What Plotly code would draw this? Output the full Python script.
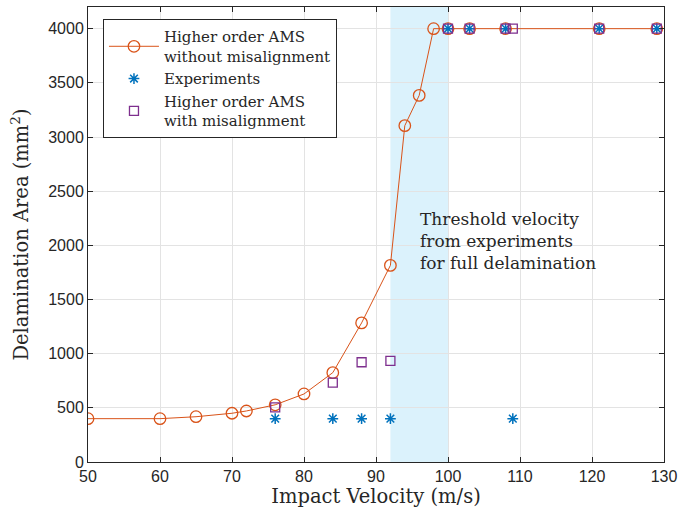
import plotly.graph_objects as go

# Data
v_ams = [50, 60, 65, 70, 72, 76, 80, 84, 88, 92, 94, 96, 98, 100, 103, 108, 121, 129]
a_ams = [400, 400, 418, 450, 471, 528, 628, 825, 1284, 1815, 3105, 3384, 4000, 4000, 4000, 4000, 4000, 4000]

v_exp = [76, 84, 88, 92, 100, 103, 108, 109, 121, 129]
a_exp = [400, 400, 400, 400, 4000, 4000, 4000, 400, 4000, 4000]

v_mis = [76, 84, 88, 92, 100, 103, 108, 109, 121, 129]
a_mis = [505, 733, 921, 933, 4000, 4000, 4000, 4000, 4000, 4000]

band = [92, 100]
x_ticks = [50, 60, 70, 80, 90, 100, 110, 120, 130]
y_ticks = [0, 500, 1000, 1500, 2000, 2500, 3000, 3500, 4000]

SERIF = "DejaVu Serif"
SANS = "Liberation Sans"
ORANGE = "#D95319"
BLUE = "#0072BD"
PURPLE = "#7E2F8E"

fig = go.Figure()
fig.add_vrect(x0=band[0], x1=band[1], fillcolor="rgba(77,190,238,0.2)", line_width=0, layer="below")

fig.add_trace(go.Scatter(
    x=v_ams, y=a_ams, mode="lines+markers",
    name="Higher order AMS<br>without misalignment",
    line=dict(color=ORANGE, width=1),
    marker=dict(symbol="circle-open", size=11.5, color=ORANGE, line=dict(width=1.3)),
))
fig.add_trace(go.Scatter(
    x=v_exp, y=a_exp, mode="markers", name="Experiments",
    marker=dict(symbol="asterisk-open", size=9, color=BLUE, line=dict(width=1.5, color=BLUE)),
))
fig.add_trace(go.Scatter(
    x=v_mis, y=a_mis, mode="markers",
    name="Higher order AMS<br>with misalignment",
    marker=dict(symbol="square-open", size=9, color=PURPLE, line=dict(width=1.3)),
))

fig.add_annotation(
    x=95.8, y=2040, xref="x", yref="y", xanchor="left", yanchor="middle",
    text="Threshold velocity<br>from experiments<br>for full delamination",
    showarrow=False, align="left",
    font=dict(family=SERIF, size=17, color="#262626"),
)

axis_common = dict(
    showline=True, linecolor="#262626", linewidth=1, mirror="ticks",
    ticks="inside", ticklen=5, tickcolor="#262626",
    showgrid=True, gridcolor="#e3e3e3", gridwidth=1, zeroline=False,
    tickfont=dict(family=SANS, size=16, color="#262626"),
    automargin=False,
)

fig.update_xaxes(range=[50, 130], tickvals=x_ticks,
                 title=dict(text="Impact Velocity (m/s)", font=dict(family=SERIF, size=19.5, color="#262626"), standoff=5),
                 **axis_common)
fig.update_yaxes(range=[0, 4200], tickvals=y_ticks,
                 title=dict(text="Delamination Area (mm<sup>2</sup>)", font=dict(family=SERIF, size=19.5, color="#262626"), standoff=14),
                 **axis_common)

fig.update_layout(
    width=680, height=520,
    margin=dict(l=88, r=16, t=7, b=58),
    plot_bgcolor="white", paper_bgcolor="white",
    showlegend=True,
    legend=dict(
        x=0.026, y=0.973, xanchor="left", yanchor="top",
        bgcolor="white", bordercolor="#262626", borderwidth=1,
        font=dict(family=SERIF, size=15, color="#262626"),
        tracegroupgap=0, itemwidth=50,
    ),
)

fig.write_html(
    "out.html",
    config={"displayModeBar": False},
    post_script="document.body.style.margin='0';document.body.style.overflow='hidden';",
)
